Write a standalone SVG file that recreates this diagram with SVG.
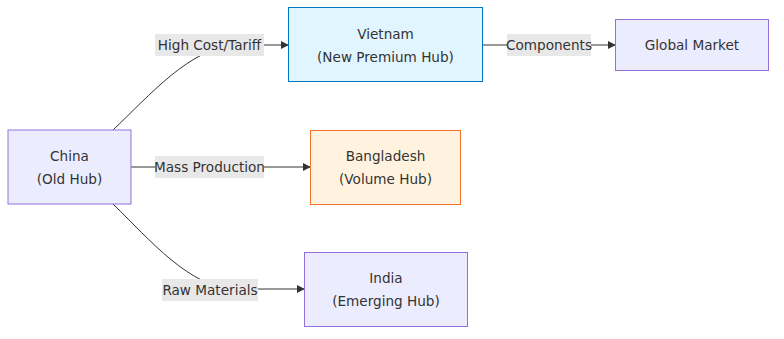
<svg xmlns="http://www.w3.org/2000/svg" width="784" height="339" viewBox="0 0 784 339">
<defs>
<marker id="arr" viewBox="0 0 10 10" refX="9" refY="5" markerWidth="8" markerHeight="8" markerUnits="userSpaceOnUse" orient="auto"><path d="M0,0 L10,5 L0,10 z" fill="#333"/></marker>
<style>
.n{fill:#ececff;stroke:#9370db;stroke-width:1}
.t{font-family:"DejaVu Sans",sans-serif;font-size:13.6px;fill:#333;text-anchor:middle}
.e{fill:none;stroke:#333;stroke-width:1;marker-end:url(#arr)}
.lb{fill:#e8e8e8}
</style>
</defs>
<rect width="784" height="339" fill="#fff"/>
<g id="connectors">
<path class="e" d="M113,130 C150,95 190,48 235,45 L288,45"/>
<path class="e" d="M131,167 L310,167"/>
<path class="e" d="M113,204 C150,240 190,288 235,289 L304,289"/>
<path class="e" d="M483,45 L615,45"/>
<rect class="lb" x="155" y="34" width="109" height="22"/>
<text class="t" x="209.5" y="50">High Cost/Tariff</text>
<rect class="lb" x="155" y="156" width="109" height="22"/>
<text class="t" x="209.5" y="172">Mass Production</text>
<rect class="lb" x="162" y="279" width="96" height="22"/>
<text class="t" x="210" y="295">Raw Materials</text>
<rect class="lb" x="507" y="34" width="84" height="22"/>
<text class="t" x="549" y="50">Components</text>
</g>
<g id="china">
<rect class="n" x="8" y="130" width="123" height="74"/>
<text class="t" x="69.5" y="161">China</text>
<text class="t" x="69.5" y="184">(Old Hub)</text>
</g>
<g id="vietnam">
<rect x="288.5" y="7.5" width="194" height="74" fill="#e1f5fe" stroke="#0277bd"/>
<text class="t" x="385.5" y="39">Vietnam</text>
<text class="t" x="385.5" y="62">(New Premium Hub)</text>
</g>
<g id="global">
<rect class="n" x="615.5" y="19.5" width="153" height="51"/>
<text class="t" x="692" y="50">Global Market</text>
</g>
<g id="bangladesh">
<rect x="310.5" y="130.5" width="150" height="74" fill="#fff3e0" stroke="#f4722c"/>
<text class="t" x="385.5" y="161">Bangladesh</text>
<text class="t" x="385.5" y="184">(Volume Hub)</text>
</g>
<g id="india">
<rect class="n" x="304.5" y="252.5" width="163" height="74"/>
<text class="t" x="386" y="283">India</text>
<text class="t" x="386" y="306">(Emerging Hub)</text>
</g>
</svg>
